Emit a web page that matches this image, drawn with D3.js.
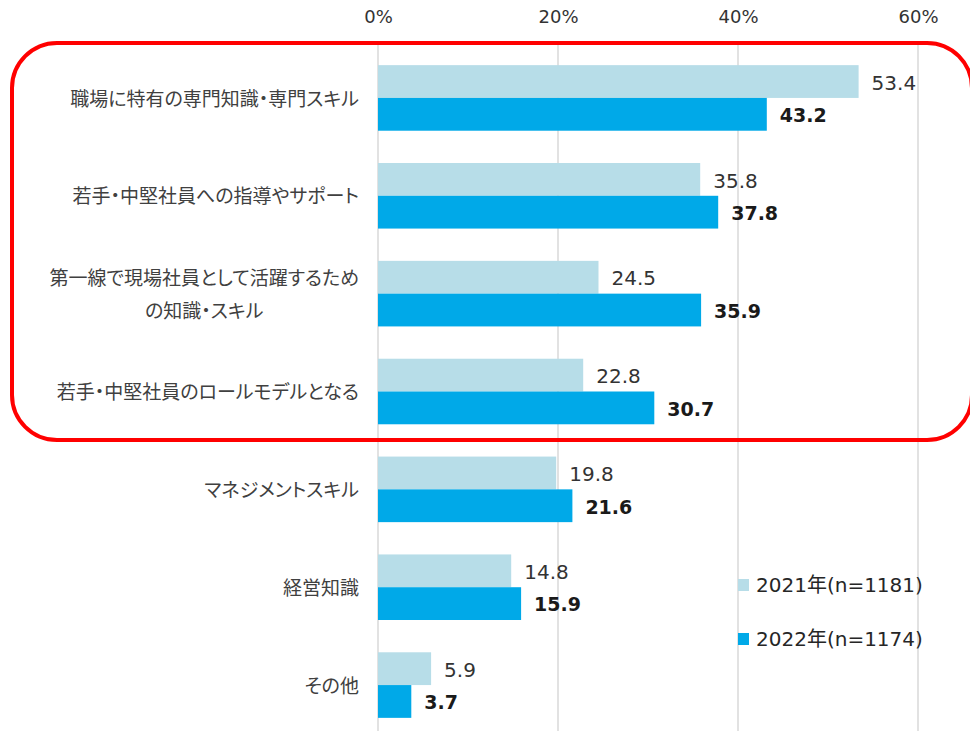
<!DOCTYPE html>
<html><head><meta charset="utf-8">
<script src="https://cdn.jsdelivr.net/npm/d3@7/dist/d3.min.js"></script>
<style>body{margin:0;background:#fff}svg{display:block}</style>
</head><body>
<script>
const categories = [
  ["職場に特有の専門知識・専門スキル"],
  ["若手・中堅社員への指導やサポート"],
  ["第一線で現場社員として活躍するため","の知識・スキル"],
  ["若手・中堅社員のロールモデルとなる"],
  ["マネジメントスキル"],
  ["経営知識"],
  ["その他"]
];
const values2021 = [53.4, 35.8, 24.5, 22.8, 19.8, 14.8, 5.9];
const values2022 = [43.2, 37.8, 35.9, 30.7, 21.6, 15.9, 3.7];
const seriesNames = ["2021年(n=1181)", "2022年(n=1174)"];
const tickValues = [0, 20, 40, 60];
const colors = ["#b7dde8", "#00a9e8"];

const W = 970, H = 731;
const CJK = "'Noto Sans CJK JP', sans-serif";
const NUM = "'DejaVu Sans', 'Noto Sans CJK JP', sans-serif";
const svg = d3.select("body").append("svg").attr("width", W).attr("height", H);

const x = d3.scaleLinear().domain([0, 60]).range([378, 918]);
const y = d3.scaleBand().domain(d3.range(categories.length)).range([49, 734]).paddingInner(0.33).paddingOuter(0.165);
const sub = d3.scaleBand().domain([0, 1]).range([0, y.bandwidth()]);

// gridlines
svg.append("g").selectAll("line").data(tickValues).join("line")
  .attr("x1", d => x(d)).attr("x2", d => x(d))
  .attr("y1", 45).attr("y2", H)
  .attr("stroke", "#d9d9d9").attr("stroke-width", 1.5);

// top axis
const axis = d3.axisTop(x).tickValues(tickValues).tickFormat(d => d + "%").tickSize(0);
const ag = svg.append("g").attr("transform", "translate(0,13)").call(axis);
ag.select(".domain").remove();
ag.selectAll("text").attr("font-family", NUM).attr("font-size", 18).attr("fill", "#333").attr("dy", "0.71em");

// bars
const series = [values2021, values2022];
series.forEach((vals, si) => {
  const g = svg.append("g");
  g.selectAll("rect").data(vals).join("rect")
    .attr("x", x(0))
    .attr("y", (d, i) => y(i) + sub(si))
    .attr("width", d => x(d) - x(0))
    .attr("height", sub.bandwidth())
    .attr("fill", colors[si]);
  g.selectAll("text").data(vals).join("text")
    .attr("x", d => x(d) + 13)
    .attr("y", (d, i) => y(i) + sub(si) + sub.bandwidth() / 2 + 1)
    .attr("dy", "0.36em")
    .attr("font-family", NUM).attr("font-size", si === 1 ? 19 : 20)
    .attr("font-weight", si === 1 ? "bold" : "normal")
    .attr("fill", si === 1 ? "#1a1a1a" : "#333")
    .text(d => d.toFixed(1));
});

// category labels
const labelRight = 359;
categories.forEach((lines, i) => {
  const cy = y(i) + y.bandwidth() / 2 + 1;
  const lh = 33;
  const t = svg.append("text")
    .attr("font-family", CJK).attr("font-size", 19).attr("fill", "#404040")
    .style("font-feature-settings", "'palt'");
  lines.forEach((ln, j) => {
    t.append("tspan").text(ln).attr("y", cy + (j - (lines.length - 1) / 2) * lh).attr("dy", "0.35em");
  });
  const spans = t.selectAll("tspan").nodes();
  const maxW = d3.max(spans.map(s => s.getComputedTextLength()));
  t.selectAll("tspan").attr("text-anchor", "middle").attr("x", labelRight - maxW / 2);
});

// highlight rounded rect
svg.append("rect")
  .attr("x", 12).attr("y", 43).attr("width", 960).attr("height", 397)
  .attr("rx", 45).attr("ry", 45)
  .attr("fill", "none").attr("stroke", "#ff0000").attr("stroke-width", 4);

// legend
const lg = svg.append("g");
seriesNames.forEach((n, i) => {
  const ly = 585 + i * 54;
  lg.append("rect").attr("x", 738).attr("y", ly - 6).attr("width", 11).attr("height", 12).attr("fill", colors[i]);
  lg.append("text").attr("x", 756).attr("y", ly).attr("dy", "0.36em")
    .attr("font-family", NUM).attr("font-size", 20).attr("fill", "#262626").text(n);
});
</script>
</body></html>
